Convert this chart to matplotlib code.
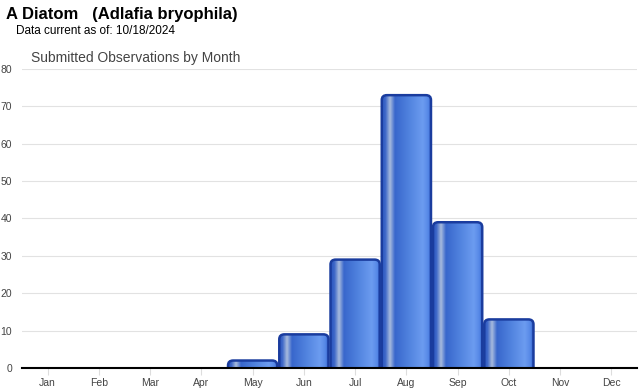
import matplotlib.pyplot as plt
import numpy as np
from matplotlib.patches import FancyBboxPatch
from matplotlib.colors import LinearSegmentedColormap

plt.rcParams['font.family'] = ['Liberation Sans', 'DejaVu Sans']

months = ['Jan', 'Feb', 'Mar', 'Apr', 'May', 'Jun', 'Jul', 'Aug', 'Sep', 'Oct', 'Nov', 'Dec']
counts = [0, 0, 0, 0, 2, 9, 29, 73, 39, 13, 0, 0]
yticks = [0, 10, 20, 30, 40, 50, 60, 70, 80]

# glossy horizontal gradient for the bars
bar_cmap = LinearSegmentedColormap.from_list('gloss', [
    (0.0, '#2a56c0'), (0.07, '#3f68c8'), (0.16, '#a8bbdd'), (0.26, '#3866cc'),
    (0.5, '#4d7fdc'), (0.82, '#6c9cf0'), (0.93, '#5587e6'), (1.0, '#2b57c4')])
grad = np.linspace(0, 1, 256).reshape(1, -1)

fig = plt.figure(figsize=(6.4, 3.9), dpi=100)
ax = fig.add_axes([22 / 640, 1 - 368 / 390, 615 / 640, 299 / 390])

x = np.arange(len(months))
width = 0.96
ax.set_xlim(-0.5, len(months) - 0.5)
ax.set_ylim(0, 80)

for xi, v in zip(x, counts):
    if v <= 0:
        continue
    x0 = xi - width / 2
    y0 = -2
    patch = FancyBboxPatch((x0, y0), width, v - y0,
                           boxstyle='round,pad=0,rounding_size=0.1',
                           mutation_aspect=13.0,
                           facecolor='none', edgecolor='#1a3c9e', linewidth=1.8, zorder=3)
    ax.add_patch(patch)
    im = ax.imshow(grad, cmap=bar_cmap, aspect='auto', extent=(x0, x0 + width, y0, v),
                   zorder=2, interpolation='bilinear')
    im.set_clip_path(patch)

ax.set_yticks(yticks)
ax.set_xticks(x)
ax.set_xticklabels(months)
ax.yaxis.grid(True, color='#e2e2e2', linewidth=0.8)
ax.set_axisbelow(True)
for s in ['top', 'right', 'left']:
    ax.spines[s].set_visible(False)
ax.spines['bottom'].set_color('black')
ax.spines['bottom'].set_linewidth(1.5)
ax.spines['bottom'].set_zorder(4)
ax.tick_params(axis='y', length=0, labelsize=7.5, colors='#444444', pad=7)
ax.tick_params(axis='x', length=5, color='#dddddd', labelsize=7.5, colors='#444444', pad=2)

fig.text(6 / 640, 1 - 14 / 390, 'A Diatom   (Adlafia bryophila)', fontsize=12,
         fontweight='bold', va='center', ha='left')
fig.text(16 / 640, 1 - 31 / 390, 'Data current as of: 10/18/2024', fontsize=8.5,
         va='center', ha='left')
fig.text(31 / 640, 1 - 58 / 390, 'Submitted Observations by Month', fontsize=10,
         color='#444444', va='center', ha='left')

fig.savefig('out.png', dpi=100)
